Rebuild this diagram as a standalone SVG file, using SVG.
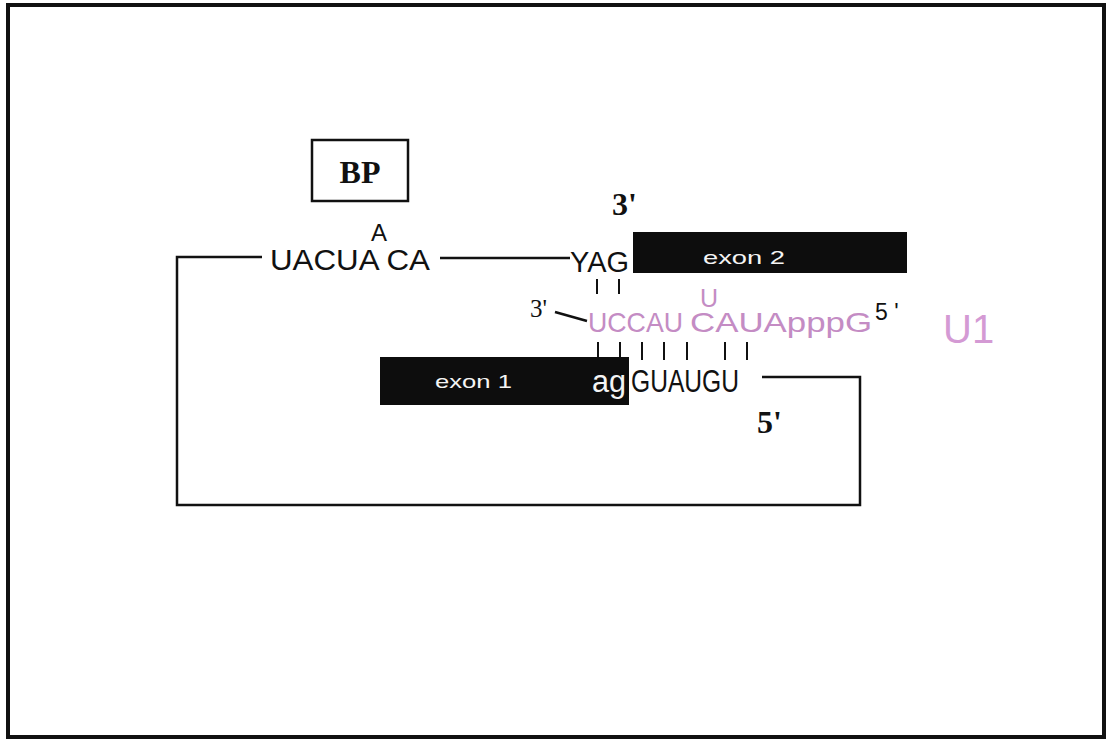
<svg xmlns="http://www.w3.org/2000/svg" width="1108" height="740" viewBox="0 0 1108 740">
<style>
.sans{font-family:"Liberation Sans",Arial,sans-serif;}
.serif{font-family:"Liberation Serif","Times New Roman",serif;}
.bold{font-weight:bold;}
.blk{fill:#111;}
.pink{fill:#c48cc4;}
.wht{fill:#f4f4f4;}
.ln{stroke:#111;stroke-width:2.5;fill:none;}
.tick{stroke:#111;stroke-width:2;}
.exon{fill:#0d0d0d;}
</style>
<rect x="0" y="0" width="1108" height="740" fill="#fff"/>
<rect x="8" y="5" width="1096" height="732" fill="none" stroke="#111" stroke-width="4"/>

<g id="connectors">
  <polyline class="ln" points="262,257 177,257 177,505 860,505 860,377 762,377"/>
  <line class="ln" x1="440" y1="258" x2="570" y2="258"/>
  <line class="ln" x1="555" y1="312" x2="587" y2="321"/>
  <g id="pairs-upper">
    <line class="tick" x1="597" y1="279" x2="597" y2="294"/>
    <line class="tick" x1="619" y1="279" x2="619" y2="294"/>
  </g>
  <g id="pairs-lower">
    <line class="tick" x1="598" y1="342" x2="598" y2="360"/>
    <line class="tick" x1="620" y1="342" x2="620" y2="360"/>
    <line class="tick" x1="642" y1="342" x2="642" y2="360"/>
    <line class="tick" x1="664" y1="342" x2="664" y2="360"/>
    <line class="tick" x1="687" y1="342" x2="687" y2="360"/>
    <line class="tick" x1="725" y1="342" x2="725" y2="360"/>
    <line class="tick" x1="747" y1="342" x2="747" y2="360"/>
  </g>
</g>

<g id="bp">
  <rect x="312" y="140" width="96" height="61" fill="none" stroke="#111" stroke-width="2.5"/>
  <text class="serif bold blk" x="360" y="183" font-size="32" text-anchor="middle">BP</text>
</g>

<g id="branch-seq">
  <text class="sans blk" x="379" y="241" font-size="24" text-anchor="middle">A</text>
  <text class="sans blk" x="270" y="270" font-size="29" textLength="160" lengthAdjust="spacingAndGlyphs">UACUA CA</text>
</g>

<g id="three-prime-ss">
  <text class="serif bold blk" x="612" y="215" font-size="32">3'</text>
  <text class="sans blk" x="570" y="272" font-size="30" textLength="59" lengthAdjust="spacingAndGlyphs">YAG</text>
</g>

<g id="exon2">
  <rect class="exon" x="633" y="232" width="274" height="41"/>
  <text class="sans wht" x="703" y="264" font-size="19" textLength="82" lengthAdjust="spacingAndGlyphs">exon  2</text>
</g>

<g id="u1">
  <text class="serif blk" x="530" y="317" font-size="25">3'</text>
  <text class="sans pink" x="588" y="332" font-size="28" textLength="95" lengthAdjust="spacingAndGlyphs">UCCAU</text>
  <text class="sans pink" x="700" y="307" font-size="25">U</text>
  <text class="sans pink" x="690" y="332" font-size="28" textLength="182" lengthAdjust="spacingAndGlyphs">CAUApppG</text>
  <text class="sans blk" x="875" y="320" font-size="23">5 '</text>
  <text class="sans" x="943" y="343" font-size="40" fill="#d49ad4">U1</text>
</g>

<g id="exon1">
  <rect class="exon" x="380" y="357" width="249" height="48"/>
  <text class="sans wht" x="435" y="388" font-size="19" textLength="77" lengthAdjust="spacingAndGlyphs">exon  1</text>
  <text class="sans wht" x="592" y="392" font-size="31" textLength="34" lengthAdjust="spacingAndGlyphs">ag</text>
</g>

<g id="five-prime-ss">
  <text class="sans blk" x="631" y="392" font-size="31" textLength="108" lengthAdjust="spacingAndGlyphs">GUAUGU</text>
  <text class="serif bold blk" x="757" y="433" font-size="32">5'</text>
</g>
</svg>
